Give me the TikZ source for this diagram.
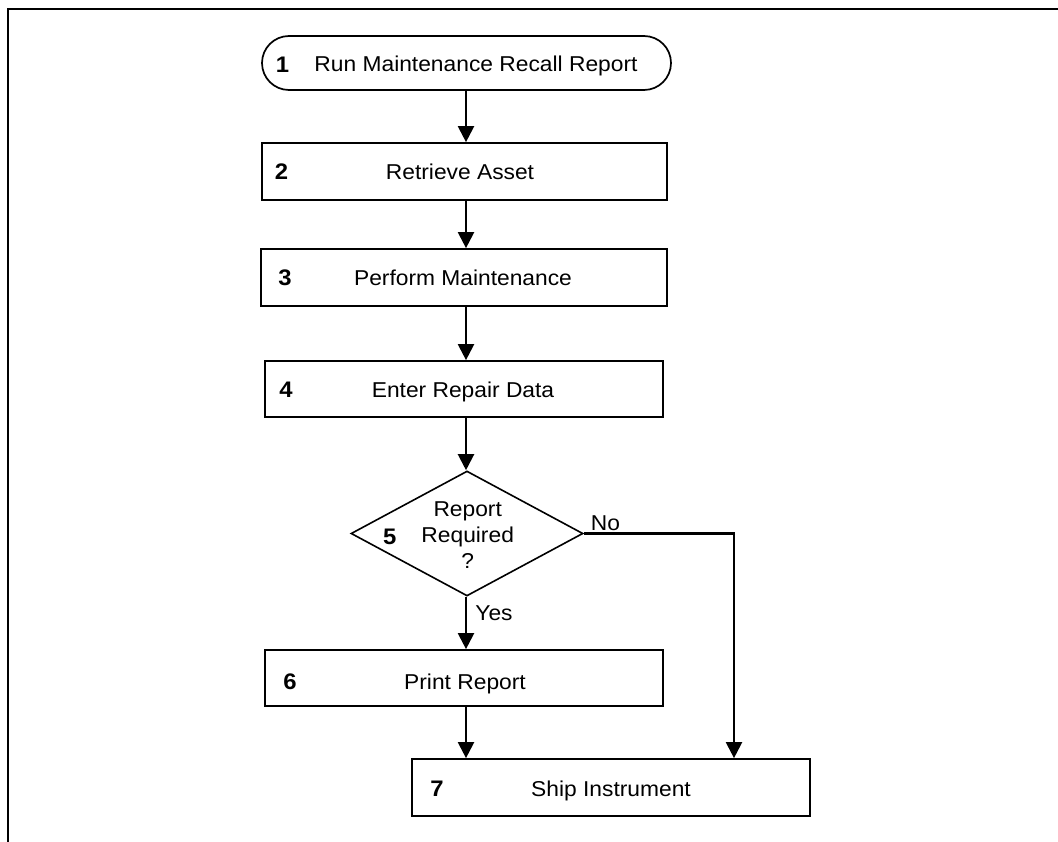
\documentclass[tikz,border=0pt]{standalone}
\usepackage{fontspec}
\setmainfont{Liberation Sans}[FakeStretch=1.06]
\usetikzlibrary{arrows.meta,shapes.geometric}
\begin{document}
\begin{tikzpicture}[x=1pt,y=-1pt,
  every node/.style={font=\fontsize{21.5}{25.7}\selectfont, inner sep=0pt},
  stepbox/.style={draw, line width=1.7pt, rectangle, minimum width=#1, minimum height=57pt},
  term/.style={draw, line width=1.7pt, rectangle, rounded corners=27pt, minimum width=409pt, minimum height=54pt},
  decision/.style={draw, line width=1.6pt, diamond, minimum width=232pt, minimum height=125pt},
  lbl/.style={anchor=base},
  num/.style={anchor=base, font=\fontsize{22.5}{25.7}\selectfont\bfseries},
  arr/.style={line width=2.2pt, -{Triangle[width=16pt,length=16pt]}}
]
\useasboundingbox (0,0) rectangle (1058,842);
% frame
\draw[line width=2.2pt] (1058,9) -- (8,9) -- (8,842);

\coordinate (col) at (466,0);

% boxes
\node[term] (b1) at (466.5,63) {};
\node[stepbox=405pt] (b2) at (464.5,171.5) {};
\node[stepbox=406pt] (b3) at (464,277.5) {};
\node[stepbox=398pt, minimum height=56pt] (b4) at (464,389) {};
\node[decision] (d5) at (467,533.5) {};
\node[stepbox=398pt, minimum height=56pt] (b6) at (464,678) {};
\node[stepbox=398pt] (b7) at (611,787.5) {};

% texts
\node[lbl] (t1) at (476,71.7) {Run Maintenance Recall Report};
\node[lbl] (t2) at (460,180) {Retrieve Asset};
\node[lbl] (t3) at (463,285.7) {Perform Maintenance};
\node[lbl] (t4) at (463,397.3) {Enter Repair Data};
\node[align=center] (t5) at (467.7,535) {Report\\Required\\?};
\node[lbl] (t6) at (465,689) {Print Report};
\node[lbl] (t7) at (611,796) {Ship Instrument};

% numbers
\node[num] (n1) at (282.5,72.5) {1};
\node[num] (n2) at (281.5,180) {2};
\node[num] (n3) at (285,285.5) {3};
\node[num] (n4) at (286,397) {4};
\node[num] (n5) at (389.7,544) {5};
\node[num] (n6) at (290,689) {6};
\node[num] (n7) at (437,796) {7};

% branch labels
\node[lbl] (no) at (605.5,530) {No};
\node[lbl] (yes) at (494,620.5) {Yes};

% connectors
\draw[arr] (b1.south -| col) -- (b2.north -| col);
\draw[arr] (b2.south -| col) -- (b3.north -| col);
\draw[arr] (b3.south -| col) -- (b4.north -| col);
\draw[arr] (b4.south -| col) -- (d5.north -| col);
\draw[arr] (d5.south -| col) -- (b6.north -| col);
\draw[arr] (b6.south -| col) -- (b7.north -| col);
\coordinate (nc) at (734,533.5);
\draw[arr] (d5.east) -- (nc) -- (nc |- b7.north);
\end{tikzpicture}
\end{document}
